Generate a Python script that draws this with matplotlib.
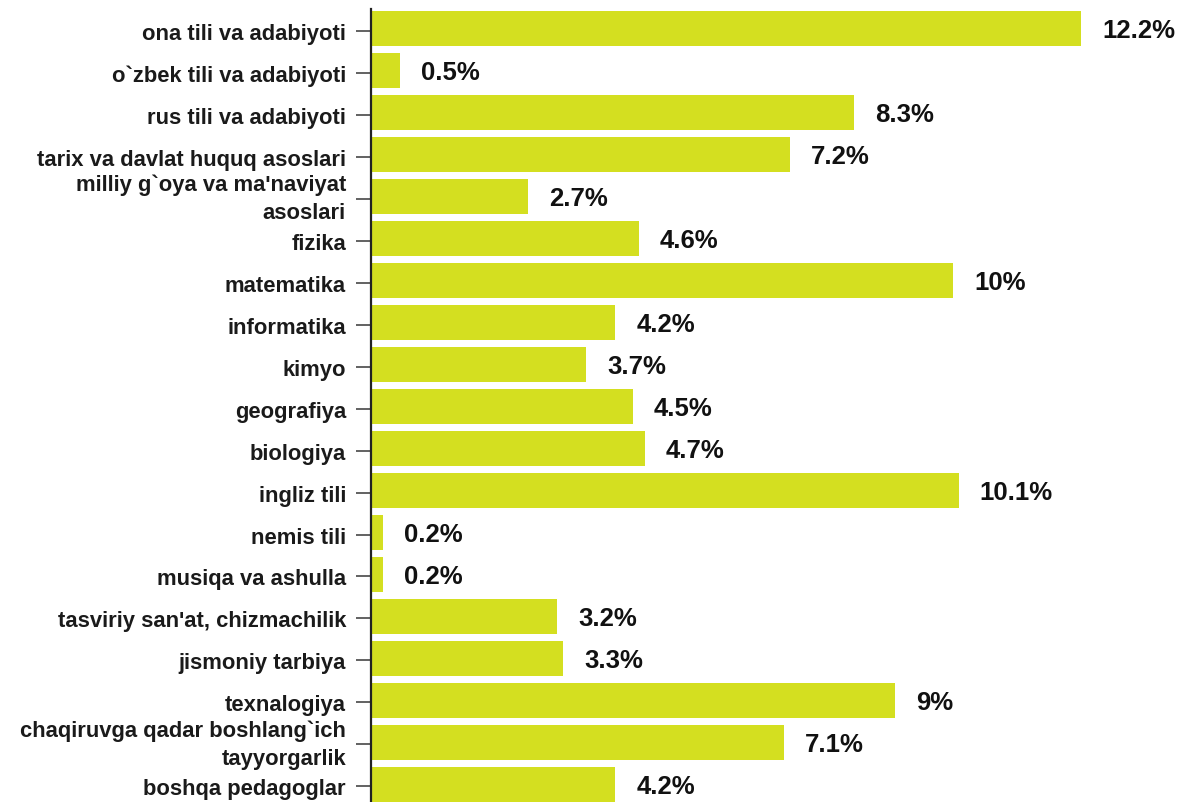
import matplotlib
matplotlib.use("Agg")
import matplotlib.pyplot as plt

categories = [
    "ona tili va adabiyoti",
    "o`zbek tili va adabiyoti",
    "rus tili va adabiyoti",
    "tarix va davlat huquq asoslari",
    "milliy g`oya va ma'naviyat\nasoslari",
    "fizika",
    "matematika",
    "informatika",
    "kimyo",
    "geografiya",
    "biologiya",
    "ingliz tili",
    "nemis tili",
    "musiqa va ashulla",
    "tasviriy san'at, chizmachilik",
    "jismoniy tarbiya",
    "texnalogiya",
    "chaqiruvga qadar boshlang`ich\ntayyorgarlik",
    "boshqa pedagoglar",
]
values = [12.2, 0.5, 8.3, 7.2, 2.7, 4.6, 10.0, 4.2, 3.7, 4.5, 4.7, 10.1,
          0.2, 0.2, 3.2, 3.3, 9.0, 7.1, 4.2]
value_labels = ["12.2%", "0.5%", "8.3%", "7.2%", "2.7%", "4.6%", "10%", "4.2%",
                "3.7%", "4.5%", "4.7%", "10.1%", "0.2%", "0.2%", "3.2%", "3.3%",
                "9%", "7.1%", "4.2%"]

plt.rcParams['font.family'] = ['Liberation Sans', 'DejaVu Sans']

fig = plt.figure(figsize=(11.81, 8.03), dpi=100)
ax = fig.add_axes([371 / 1181, 0, 1 - 371 / 1181, (803 - 10) / 803])

pos = list(range(len(categories)))
ax.barh(pos, values, height=0.83, color="#d4df20", edgecolor="none")

for p, v, t in zip(pos, values, value_labels):
    ax.annotate(t, (v, p + 0.04), xytext=(21, 0), textcoords="offset pixels",
                va="center", ha="left", fontsize=18.5, fontweight="bold",
                color="#111111")

ax.set_yticks([p + 0.05 for p in pos])
ax.set_yticklabels(categories, fontsize=15.8, fontweight="bold", color="#1a1a1a",
                   linespacing=1.42)
for lab in ax.get_yticklabels():
    if "\n" in lab.get_text():
        lab.set_va("center")
ax.set_ylim(18.42, -0.464)
ax.set_xlim(0, (1181 - 371) / 58.2)

for s in ["top", "right", "bottom"]:
    ax.spines[s].set_visible(False)
ax.spines["left"].set_linewidth(1.6)
ax.spines["left"].set_color("#222222")
ax.tick_params(axis="y", length=11, width=1.3, color="#555555", pad=7)
ax.set_xticks([])

fig.savefig("out.png", dpi=100)
